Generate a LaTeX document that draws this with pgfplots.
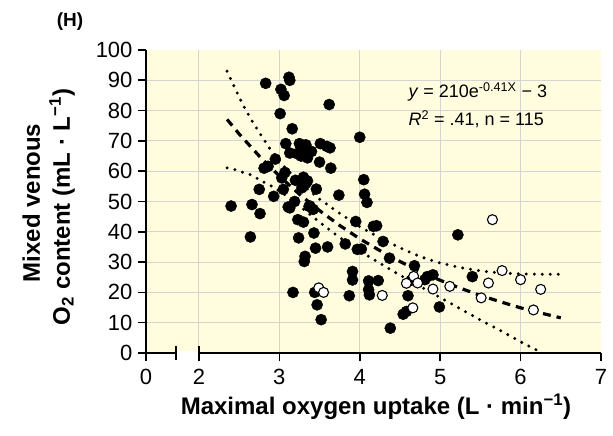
\documentclass[border=0pt]{standalone}
\usepackage{fontspec}
\setmainfont{Liberation Sans}
\usepackage{pgfplots}
\pgfplotsset{compat=1.18}
\definecolor{bgyellow}{RGB}{255,253,222}
\definecolor{gridgray}{RGB}{212,212,212}

\begin{document}
\begin{tikzpicture}
\useasboundingbox (-146pt,-83pt) rectangle (467pt,353pt);
\begin{axis}[
    at={(0pt,0pt)}, anchor=south west,
    scale only axis, width=455pt, height=303pt,
    xmin=1.342, xmax=7, ymin=0, ymax=100,
    axis x line*=bottom, axis y line*=left,
    axis line style={line width=1.8pt, -},
    xtick={1.342,2,3,4,5,6,7}, xticklabels={0,2,3,4,5,6,7},
    ytick={0,10,...,100},
    minor xtick={2,3,4,5,6}, minor ytick={10,20,...,90},
    xminorgrids, yminorgrids,
    minor grid style={gridgray, line width=0.9pt},
    minor tick length=0pt,
    major tick length=8pt,
    tick align=outside,
    tick style={black, line width=1.6pt},
    ticklabel style={font=\fontsize{22}{22}\selectfont},
    xticklabel style={yshift=-5pt},
    yticklabel style={xshift=-2pt},
    /pgf/number format/assume math mode=true,
    axis background/.style={fill=bgyellow},
    clip=false,
]

% upper confidence bound
\addplot[black, mark=none, line width=3.3pt, line cap=round, dash pattern=on 0pt off 8pt]
coordinates {
(2.35,93.0) (2.45,87.3) (2.55,81.8) (2.65,77.0) (2.75,72.8) (2.90,66.7)
(3.05,61.8) (3.25,56.3) (3.50,50.8) (3.75,46.1) (4.00,41.7) (4.25,38.0)
(4.50,34.7) (4.75,31.8) (5.00,29.7) (5.25,28.2) (5.50,27.1) (5.75,26.4)
(6.00,26.1) (6.25,26.0) (6.50,26.0)
};

% lower confidence bound
\addplot[black, mark=none, line width=3.3pt, line cap=round, dash pattern=on 0pt off 8pt]
coordinates {
(2.35,61.1) (2.45,60.5) (2.55,59.6) (2.65,58.8) (2.75,57.2) (2.90,55.1)
(3.05,52.6) (3.25,48.5) (3.50,43.2) (3.75,38.1) (4.00,33.7) (4.25,29.6)
(4.50,25.7) (4.75,22.0) (5.00,18.3) (5.25,14.6) (5.50,10.9) (5.75,7.4)
(6.00,3.7) (6.25,0.3)
};

% fitted curve
\addplot[black, mark=none, line width=3.2pt, dash pattern=on 8pt off 6pt]
coordinates {
(2.35,77.1) (2.50,72.3) (2.75,65.0) (3.00,58.4) (3.25,52.4) (3.50,47.0)
(3.75,42.1) (4.00,37.7) (4.25,33.8) (4.50,30.2) (4.75,26.9) (5.00,24.0)
(5.25,21.4) (5.50,19.0) (5.75,16.9) (6.00,14.9) (6.25,13.2) (6.50,11.6)
};

% filled points
\addplot[only marks, mark=*, mark size=5.6pt, black]
coordinates {
(2.40,48.5) (2.64,38.3) (2.66,49.0) (2.75,54.0) (2.76,46.0) (2.83,89.0)
(2.81,61.0) (2.86,61.6) (2.93,51.7) (2.95,64.0) (3.01,79.0) (3.02,87.0)
(3.06,85.0) (3.12,91.0) (3.13,90.0) (3.16,74.0) (3.08,69.1) (3.13,66.0)
(3.03,57.8) (3.05,54.0) (3.07,59.6) (3.11,48.2) (3.13,47.9) (3.17,20.0)
(3.19,50.0) (3.20,57.0) (3.22,65.8) (3.23,44.0) (3.24,38.0) (3.25,69.1)
(3.27,65.0) (3.28,56.7) (3.28,54.5) (3.30,58.0) (3.30,43.2) (3.31,30.2)
(3.32,31.9) (3.33,68.7) (3.30,66.0) (3.33,56.0) (3.35,64.4) (3.37,48.4)
(3.40,66.5) (3.42,47.4) (3.43,39.6) (3.44,20.0) (3.45,34.6) (3.47,15.9)
(3.46,54.1) (3.50,63.0) (3.51,69.1) (3.52,11.0) (3.59,68.2) (3.60,35.0)
(3.62,82.0) (3.63,67.7) (3.64,61.0) (3.74,52.1) (3.82,36.0) (3.87,18.9)
(3.91,26.9) (3.91,24.1) (3.95,43.4) (3.97,34.2) (4.00,71.2) (4.02,34.3)
(4.05,57.2) (4.06,52.4) (4.09,49.7) (4.11,23.8) (4.11,20.9) (4.12,19.2)
(4.17,41.8) (4.21,42.0) (4.23,23.9) (4.29,36.8) (4.37,31.3) (4.38,8.2)
(4.54,12.8) (4.58,13.7) (4.60,18.9) (4.64,24.0) (4.68,28.8) (4.81,24.2)
(4.84,25.2) (4.91,25.8) (4.99,15.2) (5.22,39.0) (5.40,25.2) (3.35,56.8)
(3.38,48.5)
};

% open points
\addplot[only marks, mark=*, mark size=5pt, mark options={fill=white, draw=black, line width=1.1pt}]
coordinates {
(3.49,21.5) (3.55,20.0) (4.28,19.0) (4.58,23.0) (4.67,25.3) (4.66,14.9)
(4.72,23.1) (4.91,21.1) (5.12,22.0) (5.51,18.2) (5.60,23.1) (5.65,44.0)
(5.77,27.2) (6.00,24.2) (6.16,14.2) (6.25,21.0)
};

\coordinate (b1) at (axis cs:1.714,0);
\coordinate (b2) at (axis cs:2,0);
\end{axis}

% axis break
\draw[white, line width=3pt] ([xshift=1pt]b1) -- ([xshift=-1pt]b2);
\draw[black, line width=1.8pt] ([yshift=-7pt]b1) -- ([yshift=7pt]b1);
\draw[black, line width=1.8pt] ([yshift=-7pt]b2) -- ([yshift=7pt]b2);

\node[font=\bfseries\fontsize{19}{19}\selectfont] at (-76pt,331pt) {(H)};
\node[anchor=base west, font=\fontsize{18}{18}\selectfont] at (259pt,255pt)
  {\textit{y} = 210e\textsuperscript{-0.41X} − 3};
\node[anchor=base west, font=\fontsize{18}{18}\selectfont] at (259pt,227pt)
  {\textit{R}\textsuperscript{2} = .41, n = 115};

\node[anchor=base, font=\bfseries\fontsize{24}{24}\selectfont] at (230pt,-62pt)
  {Maximal oxygen uptake (L · min\textsuperscript{−1})};
\node[anchor=base, rotate=90, font=\bfseries\fontsize{24}{24}\selectfont] at (-106pt,150pt)
  {Mixed venous};
\node[anchor=base, rotate=90, font=\bfseries\fontsize{24}{24}\selectfont] at (-76pt,146pt)
  {O\textsubscript{2} content (mL · L\textsuperscript{−1})};
\end{tikzpicture}
\end{document}
